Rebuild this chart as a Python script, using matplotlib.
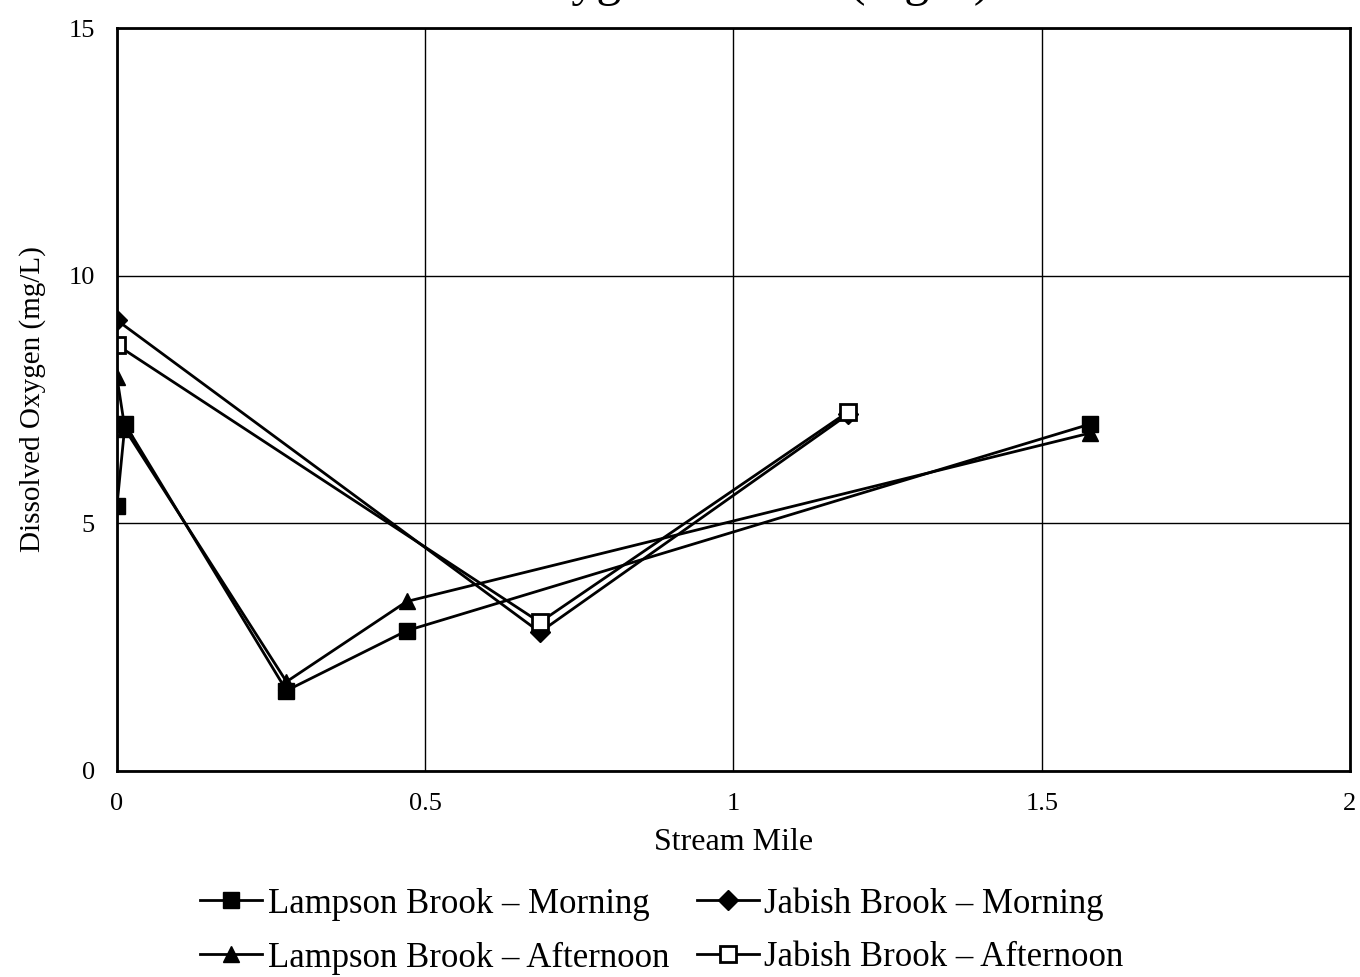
import numpy as np
import matplotlib
matplotlib.use("Agg")
import matplotlib.pyplot as plt

plt.rcParams['font.family'] = ['Liberation Serif', 'DejaVu Serif']

# stream mile / dissolved oxygen (mg/L)
lamp_am_x = [0.0, 0.013, 0.275, 0.47, 1.578]
lamp_am_y = [5.35, 7.0, 1.62, 2.83, 7.0]
lamp_pm_x = [0.0, 0.013, 0.275, 0.47, 1.578]
lamp_pm_y = [7.95, 6.9, 1.8, 3.42, 6.82]
jab_am_x = [0.0, 0.686, 1.186]
jab_am_y = [9.1, 2.8, 7.2]
jab_pm_x = [0.0, 0.686, 1.186]
jab_pm_y = [8.6, 3.0, 7.25]

xticks = [0, 0.5, 1, 1.5, 2]
xtick_labels = ['0', '0.5', '1', '1.5', '2']
yticks = [0, 5, 10, 15]

fig = plt.figure(figsize=(13.6, 9.77), dpi=100)
ax = fig.add_axes([0.086, 0.211, 0.9066, 0.7603])

l1, = ax.plot(lamp_am_x, lamp_am_y, color='black', lw=2, marker='s', ms=11,
              label='Lampson Brook \u2013 Morning')
l2, = ax.plot(jab_am_x, jab_am_y, color='black', lw=2, marker='D', ms=10,
              label='Jabish Brook \u2013 Morning')
l3, = ax.plot(lamp_pm_x, lamp_pm_y, color='black', lw=2, marker='^', ms=11,
              label='Lampson Brook \u2013 Afternoon')
l4, = ax.plot(jab_pm_x, jab_pm_y, color='black', lw=2, marker='s', ms=11,
              mfc='white', mew=2, label='Jabish Brook \u2013 Afternoon')

ax.set_xlim(0, 2)
ax.set_ylim(0, 15)
ax.set_xticks(xticks)
ax.set_xticklabels(xtick_labels)
ax.set_yticks(yticks)
ax.grid(True, color='black', lw=1)
ax.tick_params(length=0, labelsize=19, pad=16)
for s in ax.spines.values():
    s.set_linewidth(2)

ax.set_xlabel('Stream Mile', fontsize=23, labelpad=9)
ax.set_ylabel('Dissolved Oxygen (mg/L)', fontsize=21, labelpad=16)

# title sits mostly above the page edge, as in the scan
fig.text(0.728, 1.005, 'Dissolved Oxygen Profiles (mg/L)', fontsize=36,
         ha='right', va='baseline')

# row-wise order: matplotlib fills columns first
fig.legend([l1, l3, l2, l4], [l1.get_label(), l3.get_label(), l2.get_label(), l4.get_label()],
           loc='upper left', bbox_to_anchor=(0.147, 0.092), ncol=2,
           frameon=False, fontsize=25, handlelength=1.8, handletextpad=0.15,
           columnspacing=0.8, labelspacing=0.6, borderpad=0, borderaxespad=0)

fig.savefig('out.png', dpi=100)
